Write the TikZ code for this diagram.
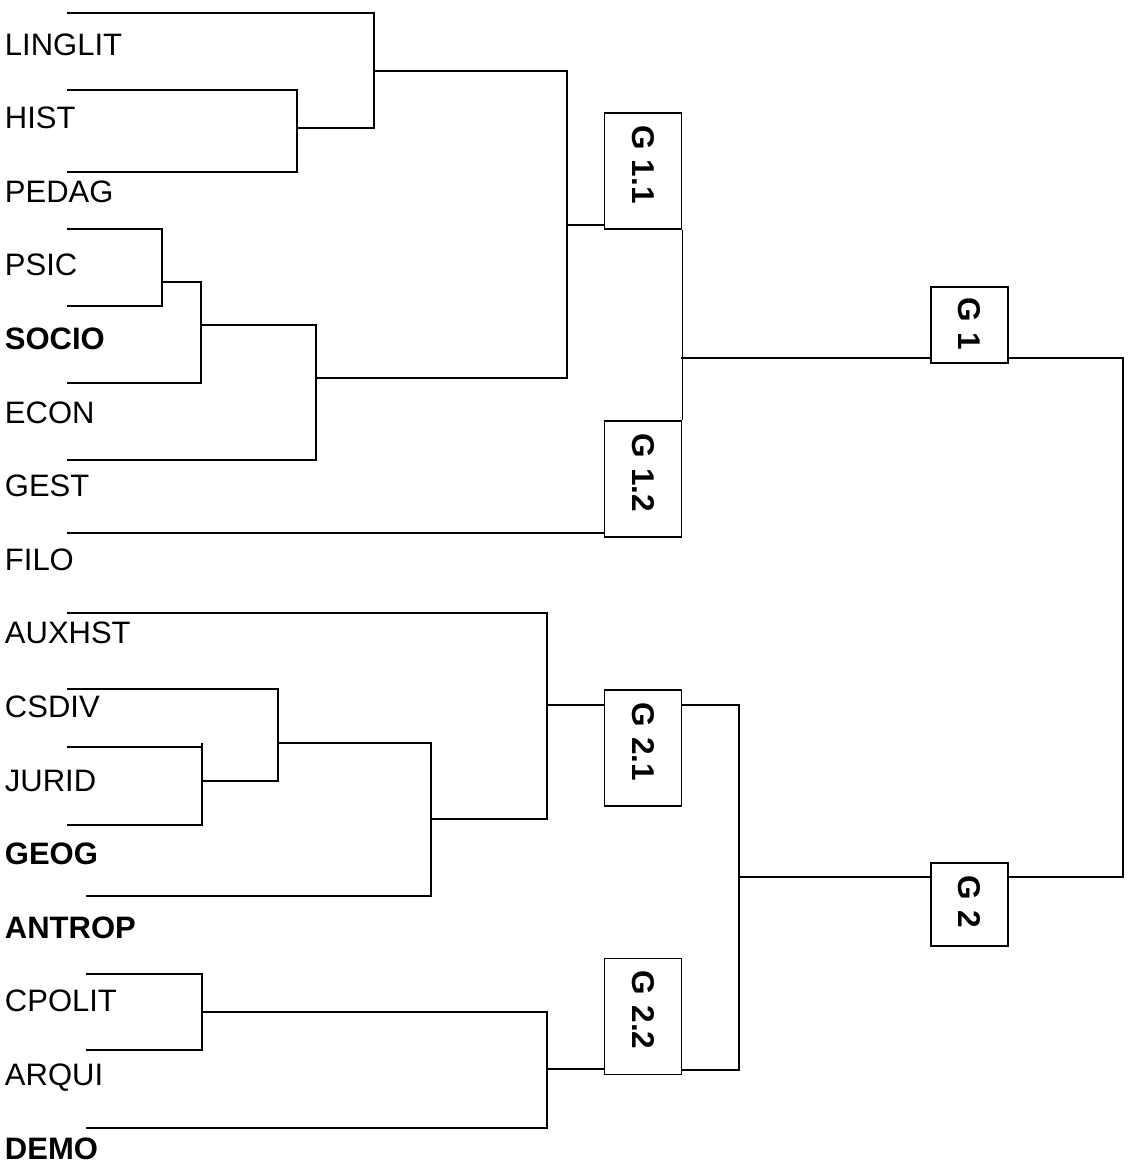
\documentclass[tikz,border=0pt]{standalone}
\usepackage{fontspec}
\setmainfont{Liberation Sans}
\begin{document}
\begin{tikzpicture}[x=1pt,y=-1pt,line width=1.9pt,
  leaf/.style={anchor=base west,inner sep=0pt,font=\fontsize{31}{37}\selectfont},
  bleaf/.style={leaf,font=\fontsize{31}{37}\selectfont\bfseries},
  gbox/.style={draw,rotate=-90,inner xsep=12pt,inner ysep=0pt,align=left,
    font=\fontsize{31.5}{37}\selectfont\bfseries,minimum height=77pt},
  gtall/.style={gbox,text width=92pt},
  g1box/.style={gbox,inner xsep=10pt,text width=56pt},
  g2box/.style={gbox,text width=59pt}]
\useasboundingbox (0,0) rectangle (1134,1167);
% leaf labels
\node[leaf]  (l1)  at (4,55)     {LINGLIT};
\node[leaf]  (l2)  at (4,128.6)  {HIST};
\node[leaf]  (l3)  at (4,202.2)  {PEDAG};
\node[leaf]  (l4)  at (4,275.8)  {PSIC};
\node[bleaf] (l5)  at (4,349.4)  {SOCIO};
\node[leaf]  (l6)  at (4,423)    {ECON};
\node[leaf]  (l7)  at (4,496.6)  {GEST};
\node[leaf]  (l8)  at (4,570.2)  {FILO};
\node[leaf]  (l9)  at (4,643.8)  {AUXHST};
\node[leaf]  (l10) at (4,717.4)  {CSDIV};
\node[leaf]  (l11) at (4,791)    {JURID};
\node[bleaf] (l12) at (4,864.6)  {GEOG};
\node[bleaf] (l13) at (4,938.2)  {ANTROP};
\node[leaf]  (l14) at (4,1011.8) {CPOLIT};
\node[leaf]  (l15) at (4,1085.4) {ARQUI};
\node[bleaf] (l16) at (4,1159)   {DEMO};
% group boxes (rotated: local south = left side, local north = right side)
\node[gtall] (G11) at (643,171)    {G 1.1};
\node[gtall] (G12) at (643,479)    {G 1.2};
\node[gtall] (G21) at (643,748)    {G 2.1};
\node[gtall] (G22) at (643,1016.5) {G 2.2};
\node[g1box] (G1)  at (969.5,325)  {G 1};
\node[g2box] (G2)  at (969.5,904.5){G 2};
% top cluster
\draw (67,13) -- (374,13) -- (374,128) -- (297,128);
\draw (67,90) -- (297,90) -- (297,172) -- (67,172);
\draw (374,71) -- (567,71) -- (567,378) -- (316,378);
\draw (67,229) -- (162,229) -- (162,306) -- (67,306);
\draw (162,282) -- (201,282) -- (201,383) -- (67,383);
\draw (201,325) -- (316,325) -- (316,460) -- (67,460);
\draw (567,225) -- (567,225 -| G11.south);
\draw (67,533) -- (67,533 -| G12.south);
\draw (G11.north east) -- (G12.north west);
\draw (681,358) -- (681,358 -| G1.south);
\draw (G1.north |- 0,358) -- (1123,358) -- (1123,877) -- (G2.north |- 0,877);
% bottom cluster
\draw (67,613) -- (547,613) -- (547,819) -- (431,819);
\draw (547,705) -- (547,705 -| G21.south);
\draw (67,689) -- (278,689) -- (278,781) -- (202,781);
\draw (67,747) -- (202,747);
\draw (202,743) -- (202,825) -- (67,825);
\draw (278,743) -- (431,743) -- (431,896) -- (86,896);
\draw (86,974) -- (202,974) -- (202,1050) -- (86,1050);
\draw (202,1012) -- (547,1012) -- (547,1128) -- (86,1128);
\draw (547,1069) -- (547,1069 -| G22.south);
\draw (G21.north |- 0,705) -- (739,705) -- (739,1070) -- (G22.north |- 0,1070);
\draw (739,877) -- (739,877 -| G2.south);
\end{tikzpicture}
\end{document}
